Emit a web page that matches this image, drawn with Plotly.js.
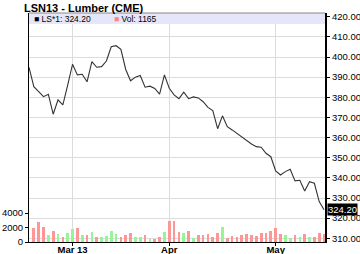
<!DOCTYPE html>
<html><head><meta charset="utf-8">
<script src="https://cdn.plot.ly/plotly-3.0.1.min.js"></script>
<style>html,body{margin:0;padding:0;background:#fff}#chart{width:360px;height:254px}</style>
</head><body><div id="chart"></div>
<script>
const dates = ['2013-02-15','2013-02-19','2013-02-20','2013-02-21','2013-02-22','2013-02-25','2013-02-26','2013-02-27','2013-02-28',
'2013-03-01','2013-03-04','2013-03-05','2013-03-06','2013-03-07','2013-03-08','2013-03-11','2013-03-12','2013-03-13','2013-03-14','2013-03-15',
'2013-03-18','2013-03-19','2013-03-20','2013-03-21','2013-03-22','2013-03-25','2013-03-26','2013-03-27','2013-03-28',
'2013-04-01','2013-04-02','2013-04-03','2013-04-04','2013-04-05','2013-04-08','2013-04-09','2013-04-10','2013-04-11','2013-04-12',
'2013-04-15','2013-04-16','2013-04-17','2013-04-18','2013-04-19','2013-04-22','2013-04-23','2013-04-24','2013-04-25','2013-04-26',
'2013-04-29','2013-04-30','2013-05-01','2013-05-02','2013-05-03','2013-05-06','2013-05-07','2013-05-08','2013-05-09','2013-05-10',
'2013-05-13','2013-05-14','2013-05-15'];
const closePrice = [394.9,385.3,382.8,380.3,381.5,371.6,378.7,376.2,386.0,396.4,391.1,391.4,387.7,397.7,394.9,395.2,398.0,405.1,405.6,403.8,
393.8,388.2,390.0,390.8,385.0,385.5,384.4,381.6,391.1,384.5,381.2,379.3,382.5,379.3,380.2,379.7,377.8,375.0,373.4,364.4,
370.8,365.4,363.8,362.1,360.1,358.3,356.8,355.5,355.2,352.2,350.5,343.4,341.4,343.1,344.3,338.5,338.8,333.5,338.1,337.3,328.2,324.2];
const volume = [null,1900,2780,2100,960,1500,1140,730,1270,1730,1960,960,960,1370,730,730,820,1500,1140,730,1000,1270,730,730,960,410,365,730,1370,
2920,2920,1370,1230,1500,550,1000,1000,1140,730,1270,2100,600,820,730,1000,1140,1000,820,1230,1270,1500,1910,1140,920,550,1000,730,1140,730,730,1270,1165];
const tickDates = ['2013-03-01','2013-04-01','2013-05-01'];
const tickLabels = ['Mar 13','Apr','May'];
const priceTicks = [310,320,330,340,350,360,370,380,390,400,410,420];
const volTicks = [0,2000,4000];
const seriesName = 'LS*1';
const lastPrice = closePrice[closePrice.length-1];
const lastVol = volume[volume.length-1];

const UP = '#96f596', DOWN = '#ff9696';
const barColors = volume.map((v,i)=> i===0 ? DOWN : (closePrice[i] >= closePrice[i-1] ? UP : DOWN));

const font = 'Liberation Sans, Arial, sans-serif';
const traces = [
  {type:'bar', x:dates, y:volume, marker:{color:barColors, line:{width:0}}, width:0.56, yaxis:'y', hoverinfo:'skip'},
  {type:'scatter', mode:'lines', x:dates, y:closePrice, yaxis:'y2', line:{color:'#333333', width:1.1}, hoverinfo:'skip'}
];
const layout = {
  width:360, height:254, margin:{l:29, r:35, t:13, b:12},
  paper_bgcolor:'#fff', plot_bgcolor:'#fff', showlegend:false, bargap:0,
  font:{family:font, size:9.5, color:'#000'},
  xaxis:{type:'category', categoryorder:'array', categoryarray:dates, range:[0,61.2],
    tickvals:tickDates, ticktext:tickLabels.map(t=>'<b>'+t+'</b>'), tickangle:0, ticklabelstandoff:-4,
    showgrid:true, gridcolor:'#dcdcdc', gridwidth:1, showline:true, linecolor:'#000', linewidth:1,
    ticks:'outside', ticklen:3, tickcolor:'#000', tickfont:{size:9.5, family:font}, zeroline:false, fixedrange:true},
  yaxis:{range:[0,31590], tickvals:volTicks, ticktext:volTicks.map(String), showgrid:false, zeroline:false,
    showline:true, linecolor:'#000', linewidth:1, ticks:'outside', ticklen:3, tickcolor:'#000', side:'left',
    tickfont:{size:9.5, family:font}},
  yaxis2:{overlaying:'y', side:'right', range:[308.16,421.84], tickvals:priceTicks, ticktext:priceTicks.map(v=>v.toFixed(2)),
    showgrid:true, gridcolor:'#dcdcdc', gridwidth:1, zeroline:false, showline:true, linecolor:'#000', linewidth:2,
    ticks:'outside', ticklen:3, tickcolor:'#000', tickfont:{size:9.5, family:font}},
  shapes:[
    {type:'rect', xref:'paper', yref:'paper', x0:0, x1:1, y0:1-11/229, y1:1, fillcolor:'#e6e6fa', line:{width:0}, layer:'above'},
    {type:'line', xref:'paper', yref:'paper', x0:0, x1:1, y0:1, y1:1, line:{color:'#888', width:1}, layer:'above'}
  ],
  annotations:[
    {xref:'paper', yref:'paper', x:-29/296+22/296, y:1+13/229, xanchor:'left', yanchor:'top', showarrow:false,
     text:'<b>LSN13 - Lumber (CME)</b>', font:{size:11, family:font, color:'#000'}, yshift:0},
    {xref:'paper', yref:'paper', x:3/296, y:1-5.5/229, xanchor:'left', yanchor:'middle', showarrow:false,
     text:'<span style="color:#000">■</span> '+seriesName+': '+lastPrice.toFixed(2), font:{size:8.5, family:font, color:'#000'}},
    {xref:'paper', yref:'paper', x:83/296, y:1-5.5/229, xanchor:'left', yanchor:'middle', showarrow:false,
     text:'<span style="color:#ff8080">■</span> Vol: '+lastVol, font:{size:8.5, family:font, color:'#000'}},
    {xref:'paper', yref:'y2', x:1, y:lastPrice, xanchor:'left', yanchor:'middle', xshift:2, showarrow:false,
     text:lastPrice.toFixed(2), bgcolor:'#000', font:{size:9.5, family:font, color:'#fff'}, borderpad:0}
  ]
};
Plotly.newPlot('chart', traces, layout, {staticPlot:true, displayModeBar:false});
</script></body></html>
